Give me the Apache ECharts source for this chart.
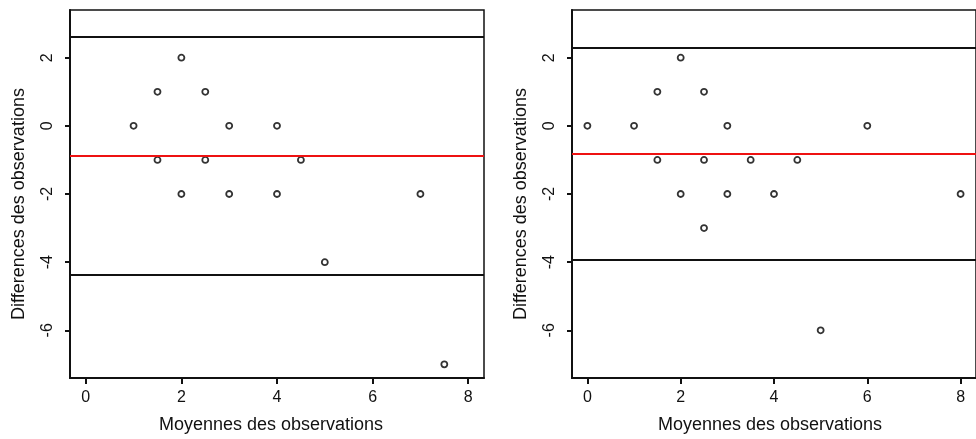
<!DOCTYPE html>
<html>
<head>
<meta charset="utf-8">
<script src="https://cdn.jsdelivr.net/npm/echarts@6/dist/echarts.min.js"></script>
<style>html,body{margin:0;padding:0;background:#fff}#c{width:976px;height:439px}</style>
</head>
<body>
<div id="c"></div>
<script>
// Left panel data
const leftX = [1, 1.5, 1.5, 2, 2, 2.5, 2.5, 3, 3, 4, 4, 4.5, 5, 7, 7.5];
const leftY = [0, 1, -1, 2, -2, 1, -1, 0, -2, 0, -2, -1, -4, -2, -7];
const leftLines = { upper: 2.61, mean: -0.87, lower: -4.38 };
// Right panel data
const rightX = [0, 1, 1.5, 1.5, 2, 2, 2.5, 2.5, 2.5, 3, 3, 3.5, 4, 4.5, 5, 6, 8];
const rightY = [0, 0, 1, -1, 2, -2, 1, -1, -3, 0, -2, -1, -2, -1, -6, 0, -2];
const rightLines = { upper: 2.28, mean: -0.81, lower: -3.92 };
const xTicks = [0, 2, 4, 6, 8];
const yTicks = [-6, -4, -2, 0, 2];
const xTitle = 'Moyennes des observations';
const yTitle = 'Differences des observations';

const FONT = 'Liberation Sans, Arial, sans-serif';

function pairs(xs, ys) { return xs.map((x, i) => [x, ys[i]]); }

function xAxisCfg(gi) {
  return {
    gridIndex: gi, type: 'value', min: -0.33, max: 8.33,
    name: xTitle, nameLocation: 'middle', nameGap: 38,
    nameTextStyle: { fontFamily: FONT, fontSize: 18, color: '#111', padding: gi === 0 ? [0, 12, 0, 0] : [0, 8, 0, 0] },
    splitLine: { show: false },
    axisLine: { show: true, onZero: false, lineStyle: { color: '#111', width: 2 } },
    axisTick: { show: true, customValues: xTicks, length: 6, lineStyle: { color: '#111', width: 2 } },
    axisLabel: { customValues: xTicks, margin: 12, fontFamily: FONT, fontSize: 16, color: '#111' }
  };
}
function yAxisCfg(gi) {
  return {
    gridIndex: gi, type: 'value', min: -7.4, max: 3.4,
    name: yTitle, nameLocation: 'middle', nameGap: 42, nameRotate: 90,
    nameTextStyle: { fontFamily: FONT, fontSize: 18, color: '#111', padding: [0, 20, 0, 0] },
    splitLine: { show: false },
    axisLine: { show: true, onZero: false, lineStyle: { color: '#111', width: 2 } },
    axisTick: { show: true, customValues: yTicks, length: 5, lineStyle: { color: '#111', width: 2 } },
    axisLabel: { customValues: yTicks, rotate: 90, margin: 14, fontFamily: FONT, fontSize: 16, color: '#111' }
  };
}
function seriesCfg(gi, xs, ys, lines) {
  return {
    type: 'scatter', xAxisIndex: gi, yAxisIndex: gi,
    data: pairs(xs, ys), symbol: 'circle', symbolSize: 6,
    itemStyle: { color: '#fff', borderColor: '#000', borderWidth: 1.8 },
    silent: true,
    markLine: {
      silent: true, symbol: 'none', label: { show: false }, animation: false,
      data: [
        { yAxis: lines.upper, lineStyle: { color: '#111', width: 2, type: 'solid' } },
        { yAxis: lines.mean, lineStyle: { color: '#ee1111', width: 2, type: 'solid' } },
        { yAxis: lines.lower, lineStyle: { color: '#111', width: 2, type: 'solid' } }
      ]
    }
  };
}

const chart = echarts.init(document.getElementById('c'), null, { renderer: 'canvas' });
chart.setOption({
  animation: false,
  backgroundColor: '#fff',
  grid: [
    { left: 70, top: 10, width: 414, height: 369, show: true, borderColor: '#111', borderWidth: 1.5, backgroundColor: 'transparent' },
    { left: 572, top: 10, width: 414, height: 370, show: true, borderColor: '#111', borderWidth: 1.5, backgroundColor: 'transparent' }
  ],
  xAxis: [xAxisCfg(0), xAxisCfg(1)],
  yAxis: [yAxisCfg(0), yAxisCfg(1)],
  series: [seriesCfg(0, leftX, leftY, leftLines), seriesCfg(1, rightX, rightY, rightLines)]
});
</script>
</body>
</html>
